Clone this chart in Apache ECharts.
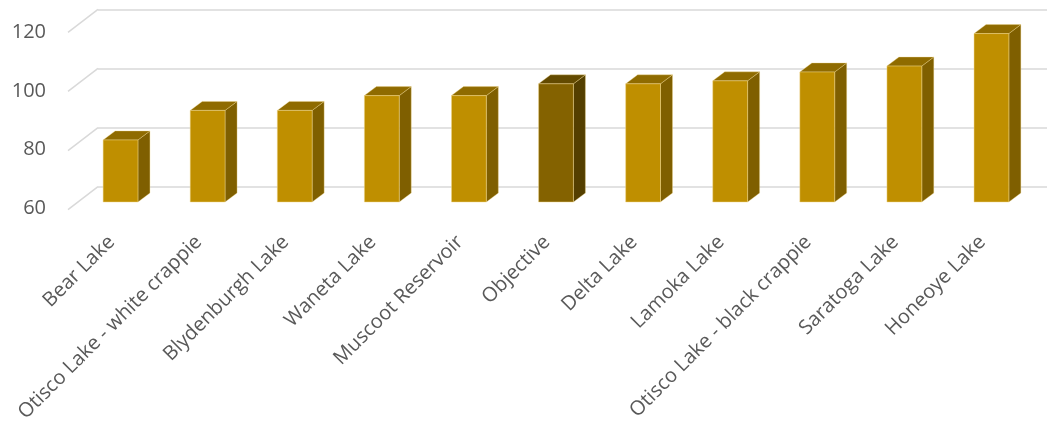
<!DOCTYPE html>
<html>
<head>
<meta charset="utf-8">
<script src="https://cdn.jsdelivr.net/npm/echarts@6/dist/echarts.min.js"></script>
<style>html,body{margin:0;padding:0;background:#fff}#c{width:1049px;height:425px}</style>
</head>
<body>
<div id="c"></div>
<script>
// ---- data ----
const categories = ['Bear Lake','Otisco Lake - white crappie','Blydenburgh Lake','Waneta Lake','Muscoot Reservoir','Objective','Delta Lake','Lamoka Lake','Otisco Lake - black crappie','Saratoga Lake','Honeoye Lake'];
const values = [81, 91, 91, 96, 96, 100, 100, 101, 104, 106, 117];
const highlighted = ['Objective'];
const yTicks = [60, 80, 100, 120];

// ---- style ----
const FONT = 'Open Sans';
const TXT = '#595959';
const GRIDC = '#d9d9d9';
const NORMAL = {front:'#BF8F00', side:'#7F5F00', top:'#8F6B00'};
const HIGH = {front:'#846200', side:'#543F00', top:'#634A00'};
const BAR_DX = 12, BAR_DY = -9;     // bar depth projection
const WALL_DX = 30, WALL_DY = -23;  // wall depth projection

const chart = echarts.init(document.getElementById('c'), null, {renderer:'canvas'});

const option = {
  animation:false,
  backgroundColor:'#fff',
  grid:[
    {left:68, right:23, top:32.3, bottom:215},     // front plane (axis labels)
    {left:98, right:2, top:9.3, bottom:238.3},     // back wall
    {left:77, right:14, top:24.7, bottom:223}      // bar depth
  ],
  xAxis:[
    {gridIndex:0, type:'category', data:categories,
     axisLine:{show:false}, axisTick:{show:false},
     axisLabel:{rotate:45, interval:0, margin:31, color:TXT, fontFamily:FONT, fontSize:20}},
    {gridIndex:1, type:'value', min:0, max:1, show:false},
    {gridIndex:2, type:'category', data:categories, show:false}
  ],
  yAxis:[
    {gridIndex:0, type:'value', min:60, max:120, interval:20,
     axisLine:{show:false}, axisTick:{show:false}, splitLine:{show:false},
     axisLabel:{margin:22, color:TXT, fontFamily:FONT, fontSize:20}},
    {gridIndex:1, type:'value', min:60, max:120, interval:20,
     axisLine:{show:false}, axisTick:{show:false}, axisLabel:{show:false},
     splitLine:{show:true, lineStyle:{color:GRIDC, width:1.5}}},
    {gridIndex:2, type:'value', min:60, max:120, interval:20, show:false}
  ],
  series:[
    {
      type:'custom', xAxisIndex:1, yAxisIndex:1, clip:false, silent:true,
      data: yTicks.map(v => [0, v]),
      renderItem:function(params, api){
        const p = api.coord([0, api.value(1)]);
        return {type:'line', shape:{x1:p[0], y1:p[1], x2:p[0]-WALL_DX, y2:p[1]-WALL_DY},
                style:{stroke:GRIDC, lineWidth:1.5}};
      }
    },
    {
      type:'custom', xAxisIndex:2, yAxisIndex:2, clip:false, silent:true,
      data: values.map((v, i) => [i, v]),
      renderItem:function(params, api){
        const i = api.value(0), v = api.value(1);
        const t = api.coord([i, v]);
        const b = api.coord([i, 60]);
        const w = api.size([1, 0])[0] * 0.4;
        const x0 = t[0] - w/2, x1 = t[0] + w/2;
        const c = highlighted.indexOf(categories[i]) >= 0 ? HIGH : NORMAL;
        const edge = 'rgba(240,215,140,0.6)';
        return {type:'group', children:[
          {type:'polygon', shape:{points:[[x1,b[1]],[x1+BAR_DX,b[1]+BAR_DY],[x1+BAR_DX,t[1]+BAR_DY],[x1,t[1]]]},
           style:{fill:c.side, stroke:edge, lineWidth:0.6}},
          {type:'polygon', shape:{points:[[x0,t[1]],[x0+BAR_DX,t[1]+BAR_DY],[x1+BAR_DX,t[1]+BAR_DY],[x1,t[1]]]},
           style:{fill:c.top, stroke:edge, lineWidth:0.6}},
          {type:'rect', shape:{x:x0, y:t[1], width:w, height:b[1]-t[1]},
           style:{fill:c.front, stroke:edge, lineWidth:0.8}}
        ]};
      }
    }
  ]
};
chart.setOption(option);
</script>
</body>
</html>
